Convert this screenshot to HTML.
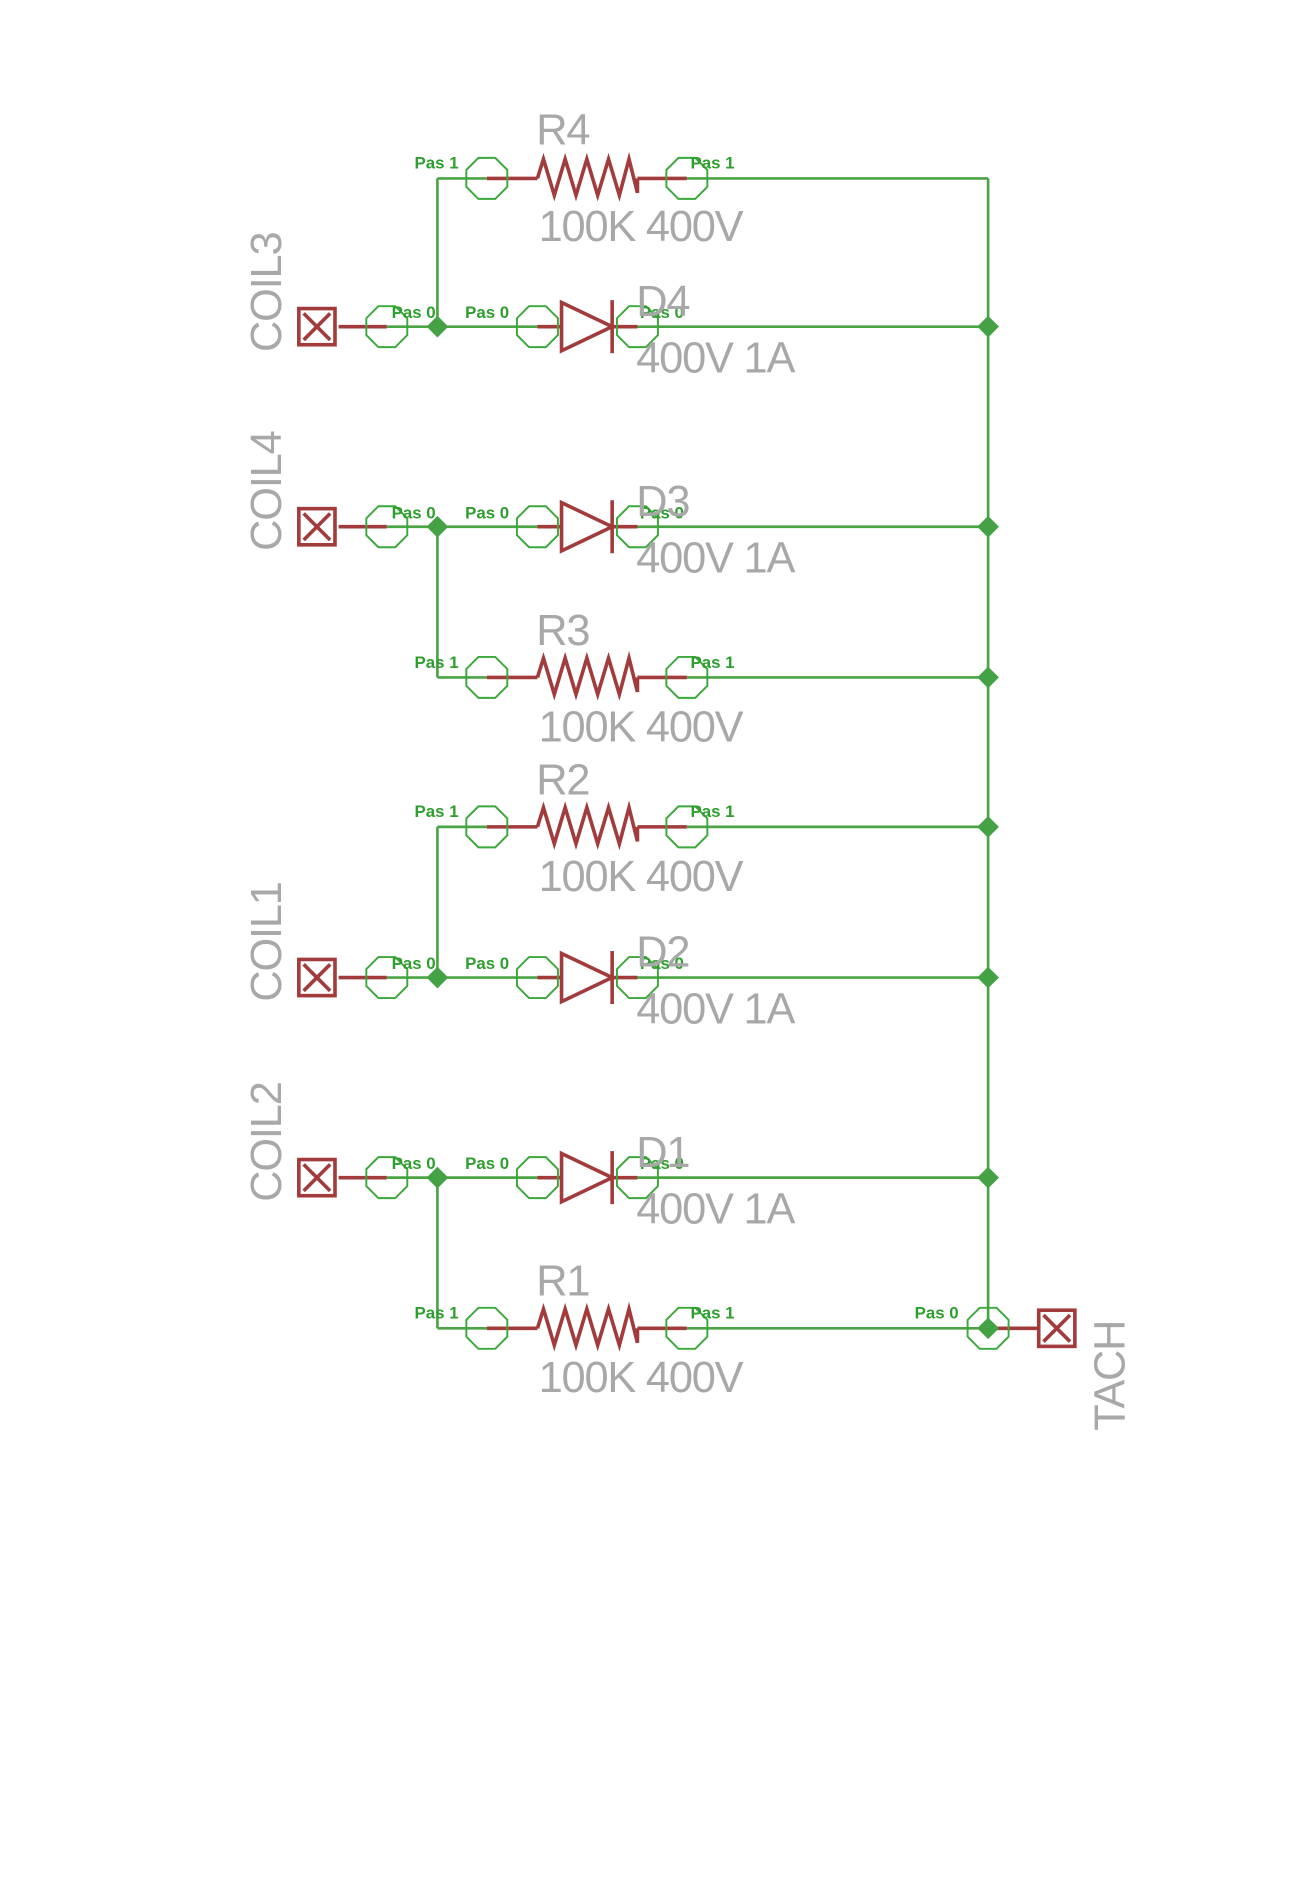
<!DOCTYPE html>
<html><head><meta charset="utf-8"><style>
html,body{margin:0;padding:0;background:#fff;width:1299px;height:1890px;overflow:hidden}
svg{display:block}
.g{stroke:#4aa444;stroke-width:2.2;fill:none}
.r{stroke:#a23b3b;stroke-width:3;fill:none}
.pin{stroke:#3aa83a;stroke-width:1.6;fill:none}
.pl{font-family:"Liberation Sans",sans-serif;font-size:14px;fill:#2e9e2e;font-weight:bold}
.lb{font-family:"Liberation Sans",sans-serif;font-size:36px;fill:#a8a8a8;letter-spacing:-1px}
</style></head><body>
<svg width="1299" height="1890" viewBox="0 0 1078 1568" preserveAspectRatio="none" xmlns="http://www.w3.org/2000/svg">
<defs>
<polygon id="oct" points="-7,-17 7,-17 17,-7 17,7 7,17 -7,17 -17,7 -17,-7"/>
<g id="res">
<line class="r" x1="404" y1="0" x2="446" y2="0"/>
<line class="r" x1="529" y1="0" x2="570" y2="0"/>
<polyline class="r" stroke-width="4" points="446,0 451,-16 460,14 469,-16 478,14 487,-16 496,14 505,-16 514,14 522,-16 529,12 529,0"/>
<use href="#oct" x="404" y="0" class="pin"/>
<use href="#oct" x="570" y="0" class="pin"/>
</g>
<g id="dio">
<line class="r" x1="446" y1="0" x2="466" y2="0"/>
<line class="r" x1="508" y1="0" x2="529" y2="0"/>
<polygon class="r" points="466,-20 466,20 508,0"/>
<line class="r" stroke-width="4" x1="508" y1="-22" x2="508" y2="22"/>
<use href="#oct" x="446" y="0" class="pin"/>
<use href="#oct" x="529" y="0" class="pin"/>
</g>
<g id="con">
<rect x="248" y="-15" width="30" height="30" class="r" stroke-width="7" fill="#f3dede"/>
<line class="r" stroke-width="4" x1="252" y1="-11" x2="274" y2="11"/>
<line class="r" stroke-width="4" x1="274" y1="-11" x2="252" y2="11"/>
<line class="r" x1="281" y1="0" x2="321" y2="0"/>
<use href="#oct" x="321" y="0" class="pin"/>
</g>
</defs>

<g class="g">
<line x1="820" y1="148" x2="820" y2="1102"/>
<line x1="363" y1="148" x2="363" y2="271"/>
<line x1="363" y1="437" x2="363" y2="562"/>
<line x1="363" y1="686" x2="363" y2="811"/>
<line x1="363" y1="977" x2="363" y2="1102"/>
<line x1="363" y1="148" x2="404" y2="148"/><line x1="570" y1="148" x2="820" y2="148"/>
<line x1="363" y1="562" x2="404" y2="562"/><line x1="570" y1="562" x2="820" y2="562"/>
<line x1="363" y1="686" x2="404" y2="686"/><line x1="570" y1="686" x2="820" y2="686"/>
<line x1="363" y1="1102" x2="404" y2="1102"/><line x1="570" y1="1102" x2="820" y2="1102"/>
<line x1="321" y1="271" x2="446" y2="271"/><line x1="529" y1="271" x2="820" y2="271"/>
<line x1="321" y1="437" x2="446" y2="437"/><line x1="529" y1="437" x2="820" y2="437"/>
<line x1="321" y1="811" x2="446" y2="811"/><line x1="529" y1="811" x2="820" y2="811"/>
<line x1="321" y1="977" x2="446" y2="977"/><line x1="529" y1="977" x2="820" y2="977"/>
</g>

<use href="#res" y="148"/><use href="#res" y="562"/><use href="#res" y="686"/><use href="#res" y="1102"/>
<use href="#dio" y="271"/><use href="#dio" y="437"/><use href="#dio" y="811"/><use href="#dio" y="977"/>
<use href="#con" y="271"/><use href="#con" y="437"/><use href="#con" y="811"/><use href="#con" y="977"/>

<line class="r" x1="820" y1="1102" x2="861" y2="1102"/>
<rect x="862" y="1087" width="30" height="30" class="r" stroke-width="7" fill="#f3dede"/>
<line class="r" stroke-width="4" x1="866" y1="1091" x2="888" y2="1113"/>
<line class="r" stroke-width="4" x1="888" y1="1091" x2="866" y2="1113"/>
<use href="#oct" x="820" y="1102" class="pin"/>

<g fill="#44a244">
<polygon points="363,262 372,271 363,280 354,271"/>
<polygon points="363,428 372,437 363,446 354,437"/>
<polygon points="363,802 372,811 363,820 354,811"/>
<polygon points="363,968 372,977 363,986 354,977"/>
<polygon points="820,262 829,271 820,280 811,271"/>
<polygon points="820,428 829,437 820,446 811,437"/>
<polygon points="820,553 829,562 820,571 811,562"/>
<polygon points="820,677 829,686 820,695 811,686"/>
<polygon points="820,802 829,811 820,820 811,811"/>
<polygon points="820,968 829,977 820,986 811,977"/>
<polygon points="820,1093 829,1102 820,1111 811,1102"/>
</g>

<g class="pl">
<text x="344" y="140">Pas 1</text><text x="573" y="140">Pas 1</text>
<text x="344" y="554">Pas 1</text><text x="573" y="554">Pas 1</text>
<text x="344" y="678">Pas 1</text><text x="573" y="678">Pas 1</text>
<text x="344" y="1094">Pas 1</text><text x="573" y="1094">Pas 1</text>
<text x="325" y="264">Pas 0</text><text x="386" y="264">Pas 0</text><text x="531" y="264">Pas 0</text>
<text x="325" y="430">Pas 0</text><text x="386" y="430">Pas 0</text><text x="531" y="430">Pas 0</text>
<text x="325" y="804">Pas 0</text><text x="386" y="804">Pas 0</text><text x="531" y="804">Pas 0</text>
<text x="325" y="970">Pas 0</text><text x="386" y="970">Pas 0</text><text x="531" y="970">Pas 0</text>
<text x="759" y="1094">Pas 0</text>
</g>

<g class="lb">
<text x="445" y="120">R4</text><text x="447" y="200">100K 400V</text>
<text x="528" y="262">D4</text><text x="528" y="309">400V 1A</text>
<text x="528" y="428">D3</text><text x="528" y="475">400V 1A</text>
<text x="445" y="535">R3</text><text x="447" y="615">100K 400V</text>
<text x="445" y="659">R2</text><text x="447" y="739">100K 400V</text>
<text x="528" y="802">D2</text><text x="528" y="849">400V 1A</text>
<text x="528" y="968">D1</text><text x="528" y="1015">400V 1A</text>
<text x="445" y="1075">R1</text><text x="447" y="1155">100K 400V</text>
<text transform="translate(233,292) rotate(-90)">COIL3</text>
<text transform="translate(233,457) rotate(-90)">COIL4</text>
<text transform="translate(233,831) rotate(-90)">COIL1</text>
<text transform="translate(233,997) rotate(-90)">COIL2</text>
<text transform="translate(933,1187) rotate(-90)">TACH</text>
</g>
</svg>
</body></html>
